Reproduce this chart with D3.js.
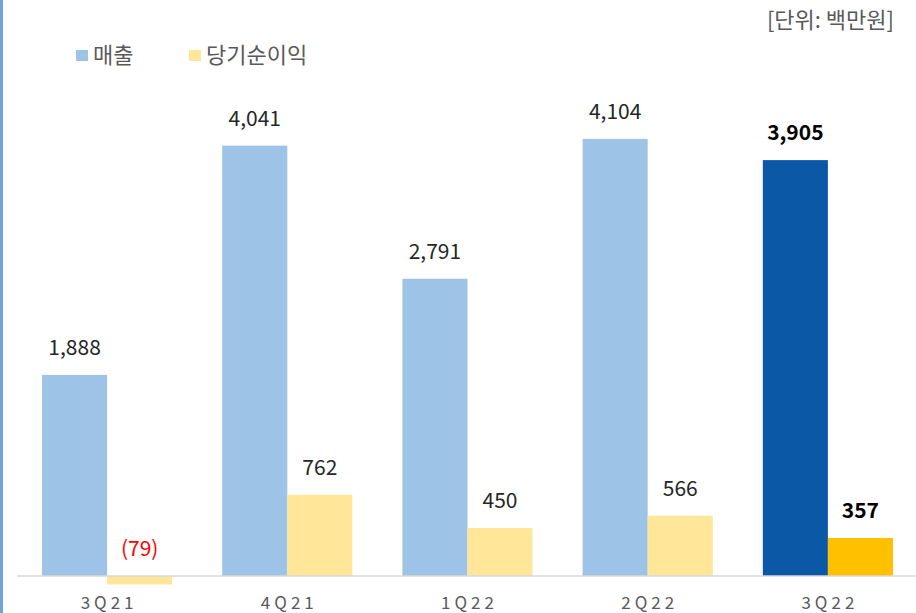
<!DOCTYPE html>
<html>
<head>
<meta charset="utf-8">
<script src="https://cdn.jsdelivr.net/npm/d3@7"></script>
<style>
  body { margin: 0; background: #fff; }
  svg { display: block; font-family: "Noto Sans CJK KR", "Noto Sans", sans-serif; }
</style>
</head>
<body>
<div class="chart"></div>
<script>
// data
var quarters = ["3Q21", "4Q21", "1Q22", "2Q22", "3Q22"];
var revenue = [1888, 4041, 2791, 4104, 3905];
var netIncome = [-79, 762, 450, 566, 357];
var seriesNames = ["매출", "당기순이익"];
var unitLabel = "[단위: 백만원]";

var svgWidth = 916, svgHeight = 613;

var svg = d3.select(".chart")
    .append("svg")
    .attr("width", svgWidth)
    .attr("height", svgHeight);

// left edge rule
svg.append("rect")
    .attr("x", 0).attr("y", 0)
    .attr("width", 3).attr("height", svgHeight)
    .attr("fill", "#6FA3DA");

var xScale = d3.scaleBand()
    .domain(quarters)
    .range([17, 918])
    .paddingInner(50 / 180)
    .paddingOuter(25 / 180);

var xSub = d3.scaleBand()
    .domain([0, 1])
    .range([0, xScale.bandwidth()]);

var yScale = d3.scaleLinear()
    .domain([0, 5000])
    .range([576, 576 - 5000 * 0.1065]);

var rows = quarters.map(function (q, i) {
    return { q: q, i: i, rev: revenue[i], ni: netIncome[i], last: i === quarters.length - 1 };
});

// revenue bars
svg.selectAll(".rev")
    .data(rows)
    .enter()
    .append("rect")
    .attr("class", "rev")
    .attr("x", d => xScale(d.q) + xSub(0))
    .attr("y", d => yScale(d.rev))
    .attr("width", xSub.bandwidth())
    .attr("height", d => yScale(0) - yScale(d.rev))
    .attr("fill", d => d.last ? "#0B58A6" : "#9DC3E6");

// net income bars
svg.selectAll(".ni")
    .data(rows)
    .enter()
    .append("rect")
    .attr("class", "ni")
    .attr("x", d => xScale(d.q) + xSub(1))
    .attr("y", d => yScale(Math.max(0, d.ni)))
    .attr("width", xSub.bandwidth())
    .attr("height", d => Math.abs(yScale(0) - yScale(d.ni)))
    .attr("fill", d => d.last ? "#FFC000" : "#FFE699");

// axis line
svg.append("line")
    .attr("x1", 17).attr("x2", svgWidth)
    .attr("y1", yScale(0)).attr("y2", yScale(0))
    .attr("stroke", "#D9D9D9")
    .attr("stroke-width", 1.5);

var fmt = d3.format(",");

// value labels
svg.selectAll(".revLabel")
    .data(rows)
    .enter()
    .append("text")
    .attr("x", d => xScale(d.q) + xSub(0) + xSub.bandwidth() / 2)
    .attr("y", d => yScale(d.rev) - 20)
    .attr("text-anchor", "middle")
    .attr("font-size", "21px")
    .attr("font-weight", d => d.last ? "bold" : "normal")
    .attr("fill", d => d.last ? "#000" : "#262626")
    .text(d => fmt(d.rev));

svg.selectAll(".niLabel")
    .data(rows)
    .enter()
    .append("text")
    .attr("x", d => xScale(d.q) + xSub(1) + xSub.bandwidth() / 2)
    .attr("y", d => yScale(Math.max(0, d.ni)) - 20)
    .attr("text-anchor", "middle")
    .attr("font-size", "21px")
    .attr("font-weight", d => d.last ? "bold" : "normal")
    .attr("fill", d => d.ni < 0 ? "#FF0000" : (d.last ? "#000" : "#262626"))
    .text(d => d.ni < 0 ? "(" + fmt(-d.ni) + ")" : fmt(d.ni));

// category labels
svg.selectAll(".cat")
    .data(quarters)
    .enter()
    .append("text")
    .attr("x", d => xScale(d) + xScale.bandwidth() / 2 + 2)
    .attr("y", 609)
    .attr("text-anchor", "middle")
    .attr("font-size", "17px")
    .attr("letter-spacing", "4px")
    .attr("fill", "#595959")
    .text(d => d);

// legend
var legendColors = ["#9DC3E6", "#FFE699"];
var legendX = [76, 189];
var legend = svg.selectAll(".legend")
    .data(seriesNames)
    .enter()
    .append("g")
    .attr("transform", (d, i) => `translate(${legendX[i]}, 50)`);
legend.append("rect")
    .attr("width", 12).attr("height", 11)
    .attr("fill", (d, i) => legendColors[i]);
legend.append("text")
    .attr("x", 17)
    .attr("y", 13)
    .attr("font-size", "22px")
    .attr("fill", "#595959")
    .text(d => d);

// unit
svg.append("text")
    .attr("x", 894)
    .attr("y", 28)
    .attr("text-anchor", "end")
    .attr("font-size", "22px")
    .attr("fill", "#595959")
    .text(unitLabel);
</script>
</body>
</html>
